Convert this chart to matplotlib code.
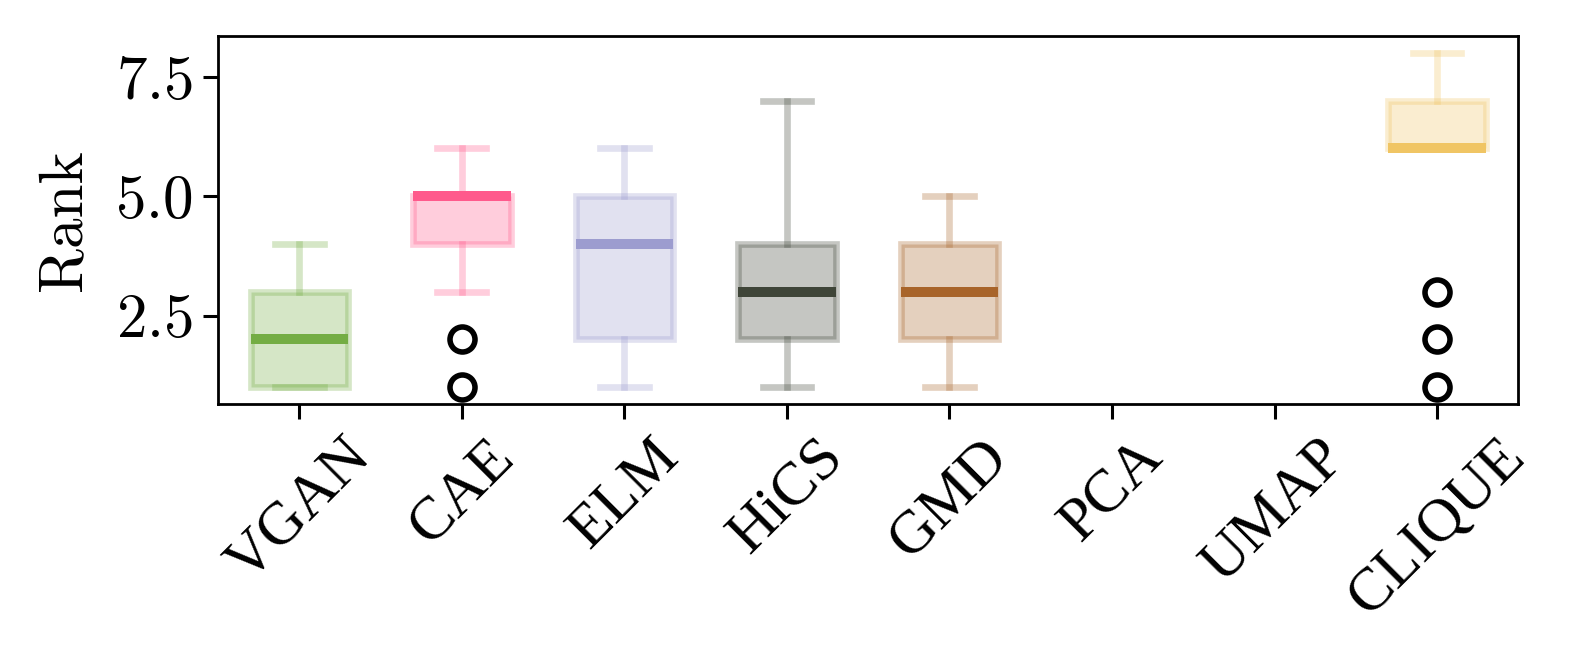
import matplotlib
matplotlib.use("Agg")
import matplotlib.pyplot as plt

plt.rcParams['mathtext.fontset'] = 'cm'
plt.rcParams['axes.formatter.use_mathtext'] = True
plt.rcParams['font.family'] = 'serif'
plt.rcParams['font.serif'] = ['cmr10', 'DejaVu Serif']
plt.rcParams['axes.unicode_minus'] = False

methods = ['VGAN', 'CAE', 'ELM', 'HiCS', 'GMD', 'PCA', 'UMAP', 'CLIQUE']
colors = ['#74ad44', '#ff5a8c', '#9c9ccf', '#3f4538', '#a8642a', None, None, '#f0c564']

# rank statistics per method (None = no result)
q1 = [1, 4, 2, 2, 2, None, None, 6]
med = [2, 5, 4, 3, 3, None, None, 6]
q3 = [3, 5, 5, 4, 4, None, None, 7]
whislo = [1, 3, 1, 1, 1, None, None, 6]
whishi = [4, 6, 6, 7, 5, None, None, 8]
fliers = [[], [2, 1], [], [], [], [], [], [3, 2, 1]]

fig = plt.figure(figsize=(7.9, 3.36), dpi=200)
ax = fig.add_axes([0.138, 0.399, 0.823, 0.547])

for i, m in enumerate(methods):
    if med[i] is None:
        continue
    st = dict(med=med[i], q1=q1[i], q3=q3[i], whislo=whislo[i],
              whishi=whishi[i], fliers=fliers[i], label=m)
    c = colors[i]
    rgb = matplotlib.colors.to_rgb(c)
    ax.bxp([st], positions=[i], widths=0.6, patch_artist=True,
           boxprops=dict(facecolor=(*rgb, 0.3), edgecolor=(*rgb, 0.3),
                         linewidth=2.4),
           whiskerprops=dict(color=c, alpha=0.3, linewidth=2.4),
           capprops=dict(color=c, alpha=0.3, linewidth=2.4),
           medianprops=dict(color=c, linewidth=3.6),
           flierprops=dict(marker='o', markerfacecolor='none',
                           markeredgecolor='black', markersize=9,
                           markeredgewidth=2.0))

ax.set_xlim(-0.5, len(methods) - 0.5)
ax.set_ylim(0.65, 8.35)
ax.set_yticks([2.5, 5.0, 7.5])
ax.set_yticklabels([r'$2.5$', r'$5.0$', r'$7.5$'])
ax.set_xticks(range(len(methods)))
ax.set_xticklabels(methods, rotation=45, ha='center',
                   family='Liberation Serif', fontsize=22)
ax.tick_params(axis='y', labelsize=22, length=5.5, width=1.1)
ax.tick_params(axis='x', length=5.5, width=1.1)
for s in ax.spines.values():
    s.set_linewidth(1.0)
ax.set_ylabel('Rank', fontsize=22, labelpad=8)

fig.savefig('out.png', dpi=200)
